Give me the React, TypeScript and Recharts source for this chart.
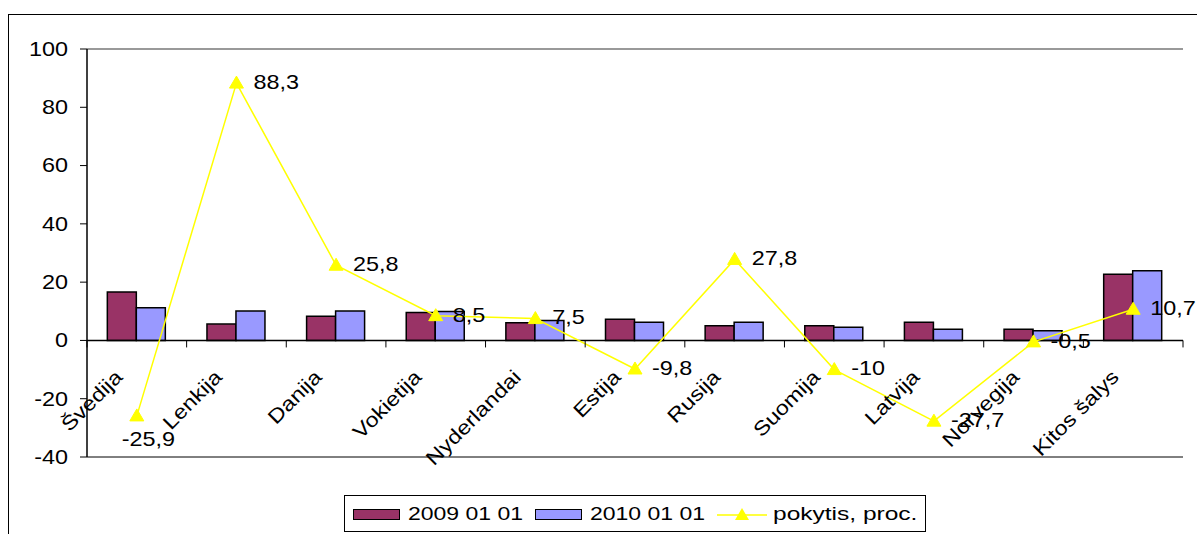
import React from "react"
import {
  ComposedChart,
  Bar,
  Line,
  XAxis,
  YAxis,
  CartesianGrid,
  ReferenceLine,
  LabelList,
} from "recharts"

const categories = [
  "Švedija",
  "Lenkija",
  "Danija",
  "Vokietija",
  "Nyderlandai",
  "Estija",
  "Rusija",
  "Suomija",
  "Latvija",
  "Norvegija",
  "Kitos šalys",
]
const values2009 = [16.6, 5.6, 8.3, 9.6, 6.1, 7.3, 5.0, 5.0, 6.2, 3.8, 22.7]
const values2010 = [11.2, 10.1, 10.1, 9.9, 6.8, 6.2, 6.2, 4.5, 3.8, 3.3, 23.9]
const change = [-25.9, 88.3, 25.8, 8.5, 7.5, -9.8, 27.8, -10, -27.7, -0.5, 10.7]
const yTicks = [-40, -20, 0, 20, 40, 60, 80, 100]

const data = categories.map((name, i) => ({
  name,
  v2009: values2009[i],
  v2010: values2010[i],
  change: change[i],
}))

const W = 1197
const H = 534
const TOP = 49
const BOTTOM = 457
const LEFT = 87
const RIGHT = 1183
const Y_MIN = -40
const Y_MAX = 100
const ZERO_Y = TOP + ((BOTTOM - TOP) * Y_MAX) / (Y_MAX - Y_MIN)
const BAND = (RIGHT - LEFT) / categories.length
const FONT = "'Liberation Sans', Arial, sans-serif"
const STRETCH = 1.17 // the original font is drawn wider than Arial

const MAROON = "#993366"
const BLUE = "#9999FF"
const YELLOW = "#FFFF00"

const fmt = (v: number) => String(v).replace(".", ",")

function WideText(props: { x: number; y: number; rotate?: number; anchor?: "start" | "end"; size?: number; children: any }) {
  const { x, y, rotate = 0, anchor = "start", size = 20, children } = props
  return (
    <text
      transform={`translate(${x} ${y}) rotate(${rotate}) scale(${STRETCH} 1)`}
      textAnchor={anchor}
      dominantBaseline="central"
      fontSize={size}
      fontFamily={FONT}
      fill="#000"
    >
      {children}
    </text>
  )
}

function CategoryTick(props: any) {
  const { x, payload, index } = props
  return (
    <g>
      {index === 0 && (
        <line x1={x - BAND / 2} x2={x - BAND / 2} y1={ZERO_Y} y2={ZERO_Y + 7} stroke="#000" />
      )}
      <line x1={x + BAND / 2} x2={x + BAND / 2} y1={ZERO_Y} y2={ZERO_Y + 7} stroke="#000" />
      <WideText x={x - 18} y={ZERO_Y + 33} rotate={-45} anchor="end">
        {payload.value}
      </WideText>
    </g>
  )
}

function ValueTick(props: any) {
  const { x, y, payload } = props
  return (
    <WideText x={x} y={y} anchor="end">
      {payload.value}
    </WideText>
  )
}

function Triangle(props: any) {
  const { cx, cy } = props
  if (cx == null || cy == null) return null
  return (
    <path
      d={`M${cx},${cy - 7} L${cx + 7},${cy + 5} L${cx - 7},${cy + 5} Z`}
      fill={YELLOW}
      stroke={YELLOW}
    />
  )
}

function PointLabel(props: any) {
  const { x, y, value, index } = props
  // the first label sits under its point in the original
  const below = index === 0
  return (
    <WideText x={below ? x - 15 : x + 17} y={below ? y + 23 : y - 1}>
      {fmt(value)}
    </WideText>
  )
}

function LegendText(props: { left: number; scale?: number; children: any }) {
  return (
    <span
      style={{
        position: "absolute",
        left: props.left,
        top: 0,
        lineHeight: "36px",
        fontSize: 19,
        whiteSpace: "nowrap",
        transform: `scaleX(${props.scale ?? 1.21})`,
        transformOrigin: "left center",
      }}
    >
      {props.children}
    </span>
  )
}

function LegendBox() {
  const swatch = (left: number, color: string) => (
    <span
      style={{
        position: "absolute",
        left,
        top: 13,
        width: 47,
        height: 11,
        background: color,
        border: "1.5px solid #000",
        boxSizing: "border-box",
      }}
    />
  )
  return (
    <div
      style={{
        position: "absolute",
        left: 344,
        top: 495,
        width: 582,
        height: 37,
        border: "1px solid #000",
        fontFamily: FONT,
        color: "#000",
        boxSizing: "border-box",
        background: "#fff",
      }}
    >
      {swatch(8, MAROON)}
      <LegendText left={63}>2009 01 01</LegendText>
      {swatch(190, BLUE)}
      <LegendText left={245}>2010 01 01</LegendText>
      <svg width={50} height={16} style={{ position: "absolute", left: 372, top: 10 }}>
        <line x1={0} x2={50} y1={9} y2={9} stroke={YELLOW} strokeWidth={1.5} />
        <path d="M25,2 L32,14 L18,14 Z" fill={YELLOW} />
      </svg>
      <LegendText left={428} scale={1.29}>pokytis, proc.</LegendText>
    </div>
  )
}

export default function App() {
  return (
    <div style={{ position: "absolute", left: 0, top: 0, width: W, height: H, overflow: "hidden", background: "#fff" }}>
      <div
        style={{
          position: "absolute",
          left: 8,
          top: 14,
          width: W,
          height: H,
          borderTop: "1.5px solid #000",
          borderLeft: "1.5px solid #000",
        }}
      />
      <div style={{ position: "absolute", left: 0, top: 0 }}>
        <ComposedChart
          width={W}
          height={H}
          data={data}
          margin={{ top: TOP, right: W - RIGHT, bottom: H - BOTTOM - 2, left: LEFT - 80 }}
          barCategoryGap="20.4%"
          barGap={0}
          style={{ overflow: "visible" }}
        >
          <CartesianGrid horizontal vertical={false} stroke="#000" strokeWidth={1} />
          <XAxis
            dataKey="name"
            height={2}
            axisLine={false}
            tickLine={false}
            interval={0}
            tick={<CategoryTick />}
          />
          <YAxis
            yAxisId="l"
            width={80}
            domain={[Y_MIN, Y_MAX]}
            ticks={yTicks}
            interval={0}
            allowDataOverflow
            axisLine={{ stroke: "#000", strokeWidth: 1.5 }}
            tickLine={{ stroke: "#000" }}
            tickSize={7}
            tickMargin={12}
            tick={<ValueTick />}
          />
          <YAxis
            yAxisId="r"
            orientation="right"
            width={0}
            domain={[Y_MIN, Y_MAX]}
            tick={false}
            tickLine={false}
            axisLine={{ stroke: "#999", strokeWidth: 2 }}
          />
          <ReferenceLine yAxisId="l" y={Y_MAX} stroke="#999" strokeWidth={2} />
          <Bar yAxisId="l" dataKey="v2009" fill={MAROON} stroke="#000" strokeWidth={1.5} isAnimationActive={false} />
          <Bar yAxisId="l" dataKey="v2010" fill={BLUE} stroke="#000" strokeWidth={1.5} isAnimationActive={false} />
          <ReferenceLine yAxisId="l" y={0} stroke="#000" strokeWidth={1.5} />
          <Line
            yAxisId="l"
            dataKey="change"
            stroke={YELLOW}
            strokeWidth={1.5}
            dot={<Triangle />}
            activeDot={false}
            isAnimationActive={false}
          >
            <LabelList dataKey="change" content={<PointLabel />} />
          </Line>
        </ComposedChart>
      </div>
      <LegendBox />
    </div>
  )
}
